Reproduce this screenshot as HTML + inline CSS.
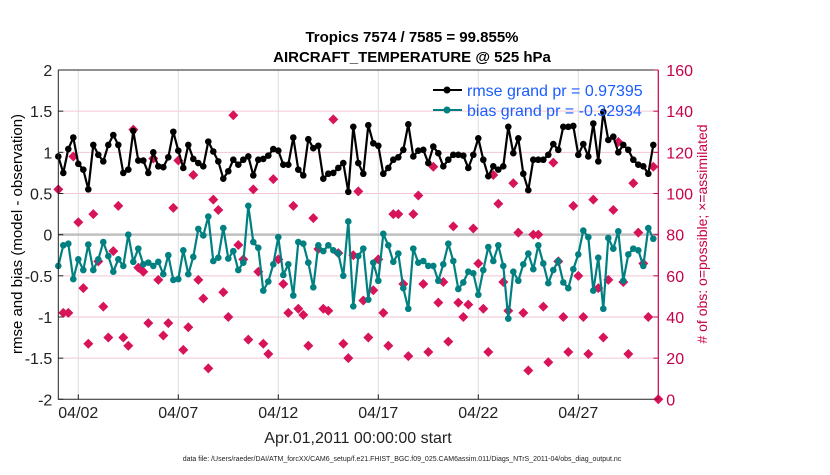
<!DOCTYPE html>
<html><head><meta charset="utf-8"><style>
html,body{margin:0;padding:0;background:#fff;}
body{width:830px;height:470px;overflow:hidden;font-family:"Liberation Sans",sans-serif;}
svg text{font-family:"Liberation Sans",sans-serif;}
</style></head><body>
<svg id="chart" width="830" height="470" viewBox="0 0 830 470" xmlns="http://www.w3.org/2000/svg">
<text x="412" y="42" text-anchor="middle" font-size="15" font-weight="bold">Tropics 7574 / 7585 = 99.855%</text>
<text x="412" y="62" text-anchor="middle" font-size="15" font-weight="bold">AIRCRAFT_TEMPERATURE @ 525 hPa</text>
<g id="grid"></g>
<g id="marks"></g>
<g id="axes"></g>
<text transform="translate(22,234) rotate(-90)" text-anchor="middle" font-size="15">rmse and bias (model - observation)</text>
<text transform="translate(707,234) rotate(-90)" text-anchor="middle" font-size="14" fill="#c8004a"># of obs: o=possible; ×=assimilated</text>
<text x="358" y="443" text-anchor="middle" font-size="16" fill="#222">Apr.01,2011 00:00:00 start</text>
<text x="402" y="461" text-anchor="middle" font-size="7" fill="#222">data file: /Users/raeder/DAI/ATM_forcXX/CAM6_setup/f.e21.FHIST_BGC.f09_025.CAM6assim.011/Diags_NTrS_2011-04/obs_diag_output.nc</text>
<g>
<line x1="433" y1="90" x2="462" y2="90" stroke="#000" stroke-width="2"/>
<circle cx="447" cy="90" r="3.5" fill="#000"/>
<text x="467" y="96" font-size="16" fill="#1a5cff">rmse grand pr = 0.97395</text>
<line x1="433" y1="110" x2="462" y2="110" stroke="#008080" stroke-width="2"/>
<circle cx="447" cy="110" r="3.5" fill="#008080"/>
<text x="467" y="116" font-size="16" fill="#1a5cff">bias grand pr = -0.32934</text>
</g>
</svg>
<script>
const rmse=[0.95,0.75,1.04,1.18,0.86,0.79,0.55,1.09,0.97,0.89,1.09,1.21,1.09,0.75,0.79,1.26,0.90,0.90,0.75,1.0,0.83,0.82,0.94,1.25,1.02,0.81,1.09,0.92,0.87,0.83,1.13,1.01,0.89,0.68,0.77,0.91,0.85,0.91,0.95,0.72,0.91,0.92,0.96,1.04,1.02,0.85,0.85,1.18,0.79,0.72,1.16,1.05,1.08,0.68,0.74,0.75,0.81,0.87,0.52,1.31,0.87,0.74,1.33,1.11,1.08,0.74,0.81,0.91,0.94,1.03,1.34,0.95,1.02,1.03,0.87,1.07,0.99,0.83,0.91,0.97,0.97,0.96,0.81,0.97,1.17,0.91,0.71,0.83,0.79,0.83,1.31,0.99,1.17,0.74,0.54,0.91,0.91,0.91,0.97,1.10,1.03,1.31,1.31,1.32,0.97,1.10,0.95,1.35,0.89,1.49,1.15,1.19,1.00,1.09,1.03,0.91,0.85,0.83,0.74,1.09];
const bias=[-0.38,-0.13,-0.11,-0.54,-0.30,-0.43,-0.12,-0.43,-0.30,-0.09,-0.26,-0.45,-0.30,-0.38,0,-0.33,-0.17,-0.36,-0.34,-0.38,-0.33,-0.48,-0.25,-0.55,-0.54,-0.19,-0.48,-0.27,0.07,-0.01,0.22,-0.32,-0.28,0.08,-0.29,-0.20,-0.43,-0.34,0.35,-0.09,-0.16,-0.68,-0.57,-0.36,-0.03,-0.49,-0.36,-0.74,-0.09,-0.11,-0.34,-0.64,-0.13,-0.20,-0.13,-0.19,-0.23,-0.50,0.16,-0.87,-0.26,-0.17,-0.79,-0.34,-0.56,0.01,-0.13,-0.33,-0.23,-0.65,-0.90,-0.17,-0.34,-0.32,-0.38,-0.38,-0.56,-0.36,-0.11,-0.32,-0.66,-0.58,-0.45,-0.47,-0.73,-0.43,-0.15,-0.32,-0.13,-0.38,-1.02,-0.45,-0.56,-0.36,-0.23,-0.42,-0.13,-0.35,-0.59,-0.43,-0.32,-0.58,-0.65,-0.42,-0.24,0.05,-0.03,-0.68,-0.28,-0.90,-0.04,-0.17,0.04,-0.56,-0.24,-0.17,-0.19,-0.38,0.08,-0.05];
const nobs=[102,42,42,118,86,54,27,90,67,45,30,72,94,30,26,131,64,62,37,117,58,31,37,93,116,24,35,109,58,49,15,97,92,52,40,138,75,68,29,102,62,27,22,107,68,56,42,94,44,41,26,88,73,44,43,136,71,27,20,70,101,48,30,53,68,42,26,90,90,56,21,90,99,56,23,113,47,57,28,84,47,40,46,83,66,44,23,109,95,57,43,105,81,42,14,80,80,45,18,115,67,40,23,94,60,40,22,97,54,30,58,92,125,57,22,105,81,66,40,113,0];
const xTickDays=[1,6,11,16,21,26];
const xTickLabels=["04/02","04/07","04/12","04/17","04/22","04/27"];
const yLeftTicks=[2,1.5,1,0.5,0,-0.5,-1,-1.5,-2];
const yRightTicks=[160,140,120,100,80,60,40,20,0];

const NS="http://www.w3.org/2000/svg";
const L=58.3,R=658.3,T=70,B=399.3;
const xs=d=>L+(d/30)*(R-L);
const yl=v=>T+(2-v)/4*(B-T);
const yr=v=>T+(160-v)/160*(B-T);
function mk(tag,attrs,parent){const e=document.createElementNS(NS,tag);for(const k in attrs)e.setAttribute(k,attrs[k]);parent.appendChild(e);return e;}
const grid=document.getElementById('grid'),marks=document.getElementById('marks'),axes=document.getElementById('axes');
yRightTicks.forEach(v=>{if(v>0&&v<160&&v!==80){const g=mk('line',{x1:L,x2:R,y1:yr(v),y2:yr(v),stroke:'#f2c6d4','stroke-width':1},grid);

}});
xTickDays.forEach(d=>{const g=mk('line',{x1:xs(d),x2:xs(d),y1:T,y2:B,stroke:'#dcdcdc','stroke-width':1},grid);

});
const zl=mk('line',{x1:L,x2:R,y1:yl(0),y2:yl(0),stroke:'#c0c0c0','stroke-width':2.5},grid);


// obs diamonds
nobs.forEach((n,i)=>{const x=xs(i/4),y=yr(n),s=5;
const p=mk('polygon',{points:`${x},${y-s} ${x+s},${y} ${x},${y+s} ${x-s},${y}`,fill:'#d7135a'},marks);

});
function series(arr,color,name){
const pts=arr.map((v,i)=>`${xs(i/4)},${yl(v)}`).join(' ');
const pl=mk('polyline',{points:pts,fill:'none',stroke:color,'stroke-width':2.2,'stroke-linejoin':'round'},marks);


arr.forEach((v,i)=>{const c=mk('circle',{cx:xs(i/4),cy:yl(v),r:3.3,fill:color},marks);

});}
series(bias,'#008080','bias');
series(rmse,'#000000','rmse');
// axes
const ax1=mk('path',{d:`M${L},${T} V${B} H${R}`,fill:'none',stroke:'#222','stroke-width':1},axes);


const ax2=mk('line',{x1:L,x2:R,y1:T,y2:T,stroke:'#222','stroke-width':1},axes);


const ax3=mk('line',{x1:R,x2:R,y1:T,y2:B,stroke:'#c8004a','stroke-width':1.2},axes);


yLeftTicks.forEach(v=>{const t=mk('text',{x:L-6,y:yl(v)+6,'text-anchor':'end','font-size':16,fill:'#222'},axes);t.textContent=String(v);


mk('line',{x1:L,x2:L+5,y1:yl(v),y2:yl(v),stroke:'#222'},axes);});
yRightTicks.forEach(v=>{const t=mk('text',{x:R+8,y:yr(v)+6,'font-size':16,fill:'#c8004a'},axes);t.textContent=String(v);


mk('line',{x1:R-5,x2:R,y1:yr(v),y2:yr(v),stroke:'#c8004a'},axes);});
xTickDays.forEach((d,i)=>{const t=mk('text',{x:xs(d),y:418,'text-anchor':'middle','font-size':16,fill:'#222'},axes);t.textContent=xTickLabels[i];


mk('line',{x1:xs(d),x2:xs(d),y1:B,y2:B-5,stroke:'#222'},axes);});
</script>
</body></html>
